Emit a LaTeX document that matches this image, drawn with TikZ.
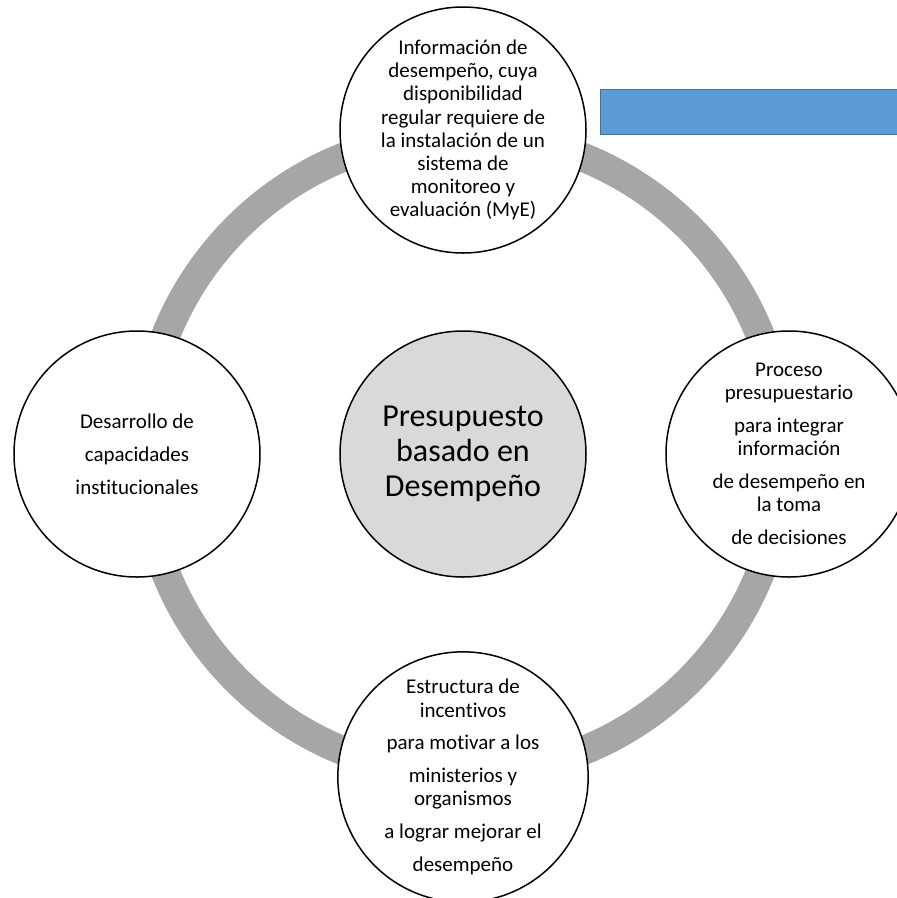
\documentclass[tikz,border=0pt]{standalone}
\usepackage{fontspec}
\setmainfont{Carlito}[Ligatures=NoCommon]
\definecolor{anillogris}{RGB}{166,166,166}
\definecolor{azulbarra}{RGB}{91,155,213}
\definecolor{azulborde}{RGB}{65,113,156}
\definecolor{centrogris}{RGB}{217,217,217}
\begin{document}
\begin{tikzpicture}[x=1pt, y=-1pt,
  pieza/.style={draw, circle, line width=1.5pt, fill=white, minimum size=246pt, inner sep=0pt,
    align=center, font=\fontsize{21}{23.2}\selectfont},
  anillo/.style={draw=anillogris, line width=29pt}]
  \useasboundingbox (0,0) rectangle (897,898);
  \coordinate (c) at (463,454);
  \draw [anillo] (c) circle [radius=320];
  \node [draw=azulborde, fill=azulbarra, line width=1.2pt, anchor=north west,
    minimum width=320pt, minimum height=45pt, inner sep=0pt] (barra) at (600,89) {};
  \node [pieza, fill=centrogris, font=\fontsize{32}{35}\selectfont] (pbd) at (c)
    {Presupuesto\\basado en\\Desempeño};
  \node [pieza] (info) at (463,130)
    {Información de\\desempeño, cuya\\disponibilidad\\regular requiere de\\la instalación de un\\sistema de\\monitoreo y\\evaluación (MyE)};
  \node [pieza] (proceso) at (789,454)
    {Proceso\\presupuestario\\[9.6pt]para integrar\\información\\[9.6pt]de desempeño en\\la toma\\[9.6pt]de decisiones};
  \node [pieza] (incentivos) at (463,777)
    {Estructura de\\incentivos\\[9.6pt]para motivar a los\\[9.6pt]ministerios y\\organismos\\[9.6pt]a lograr mejorar el\\[9.6pt]desempeño};
  \node [pieza] (capacidades) at (137,454)
    {Desarrollo de\\[9.6pt]capacidades\\[9.6pt]institucionales};
\end{tikzpicture}
\end{document}
